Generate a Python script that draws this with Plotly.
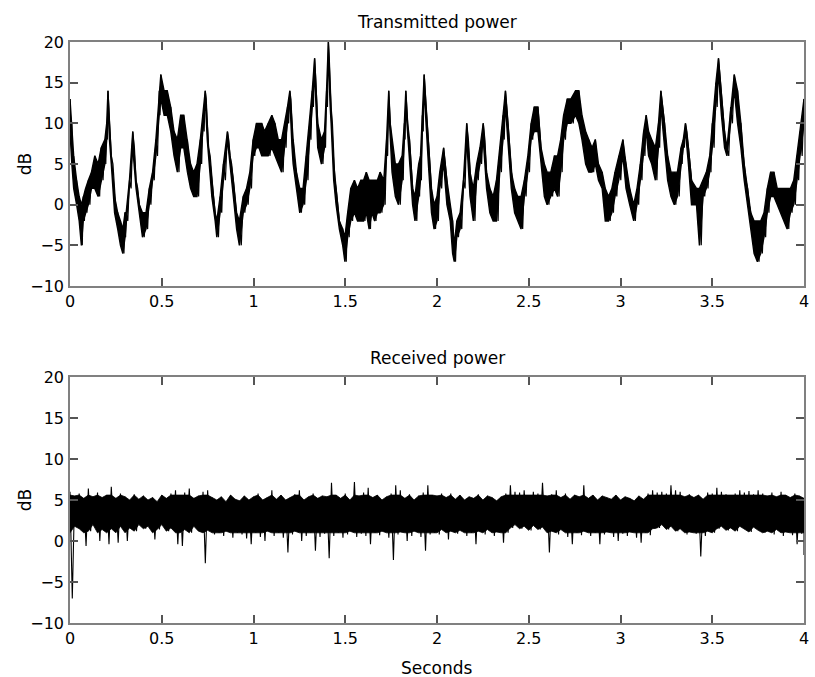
import numpy as np
import plotly.graph_objects as go
from plotly.subplots import make_subplots

# transmitted power, dB: upper / lower edge of the noisy trace
tx_time = [0.000, 0.010, 0.020, 0.036, 0.050, 0.062, 0.072, 0.085, 0.100, 0.117, 0.135, 0.153, 0.170, 0.190,
           0.200, 0.207, 0.215, 0.225, 0.243, 0.260, 0.275, 0.288, 0.300, 0.306, 0.324, 0.342, 0.360, 0.378,
           0.395, 0.414, 0.432, 0.450, 0.468, 0.486, 0.495, 0.513, 0.530, 0.549, 0.567, 0.585, 0.603, 0.620,
           0.640, 0.657, 0.674, 0.692, 0.710, 0.725, 0.737, 0.748, 0.755, 0.773, 0.791, 0.800, 0.818, 0.836,
           0.858, 0.872, 0.890, 0.908, 0.923, 0.944, 0.962, 0.980, 0.998, 1.016, 1.030, 1.045, 1.060, 1.080,
           1.100, 1.117, 1.135, 1.153, 1.170, 1.185, 1.198, 1.210, 1.216, 1.234, 1.252, 1.270, 1.288, 1.306,
           1.320, 1.333, 1.343, 1.350, 1.370, 1.387, 1.398, 1.408, 1.418, 1.423, 1.437, 1.450, 1.468, 1.486,
           1.498, 1.513, 1.530, 1.550, 1.567, 1.585, 1.600, 1.615, 1.630, 1.645, 1.660, 1.675, 1.690, 1.710,
           1.725, 1.737, 1.745, 1.755, 1.773, 1.790, 1.810, 1.822, 1.830, 1.840, 1.850, 1.867, 1.880, 1.900,
           1.910, 1.920, 1.930, 1.940, 1.953, 1.970, 1.984, 2.000, 2.015, 2.036, 2.054, 2.072, 2.085, 2.094,
           2.108, 2.126, 2.144, 2.162, 2.180, 2.198, 2.216, 2.234, 2.252, 2.270, 2.288, 2.306, 2.324, 2.342,
           2.360, 2.373, 2.387, 2.405, 2.423, 2.440, 2.458, 2.476, 2.495, 2.513, 2.530, 2.550, 2.567, 2.585,
           2.600, 2.620, 2.640, 2.657, 2.674, 2.690, 2.710, 2.730, 2.755, 2.773, 2.790, 2.810, 2.827, 2.845,
           2.863, 2.880, 2.900, 2.917, 2.935, 2.953, 2.970, 2.990, 3.013, 3.030, 3.050, 3.072, 3.090, 3.108,
           3.126, 3.140, 3.153, 3.170, 3.190, 3.207, 3.220, 3.240, 3.257, 3.275, 3.293, 3.310, 3.330, 3.342,
           3.354, 3.370, 3.387, 3.414, 3.430, 3.450, 3.468, 3.486, 3.500, 3.520, 3.534, 3.550, 3.567, 3.580,
           3.600, 3.620, 3.638, 3.656, 3.674, 3.693, 3.710, 3.728, 3.746, 3.764, 3.782, 3.800, 3.818, 3.836,
           3.854, 3.872, 3.890, 3.908, 3.926, 3.944, 3.962, 3.980, 4.000]
tx_high = [13, 10, 6, 3, 1, 0, 1, 2, 3, 4, 6, 5, 7, 8,
           10, 14, 10, 6, 1, -1, -2, -3, -1, -1, 3, 9, 3, 0,
           -1, -1, 2, 4, 8, 14, 16, 14, 14, 12, 9, 8, 11, 11,
           8, 5, 4, 5, 8, 11, 14, 10, 7, 3, -1, -2, 1, 5,
           9, 6, 3, -1, -2, 1, 2, 4, 8, 10, 10, 10, 9, 10,
           11, 10, 8, 8, 10, 12, 14, 10, 8, 4, 2, 2, 6, 10,
           14, 18, 13, 10, 8, 9, 14, 20, 14, 12, 5, 2, -2, -3,
           -4, -1, 2, 3, 2, 3, 3, 4, 3, 3, 3, 3, 4, 3,
           8, 14, 10, 8, 5, 5, 6, 10, 14, 10, 8, 2, 1, 5,
           6, 11, 16, 12, 8, 2, 0, 1, 4, 7, 3, 0, -2, -5,
           -2, -1, 3, 10, 4, 2, 5, 7, 10, 4, 2, 1, 3, 7,
           11, 14, 10, 4, 2, 1, 1, 3, 6, 10, 12, 12, 7, 5,
           4, 4, 6, 6, 8, 11, 13, 13, 14, 14, 11, 9, 8, 7,
           8, 5, 4, 2, 1, 2, 4, 6, 8, 5, 2, 0, 2, 5,
           9, 11, 9, 8, 7, 10, 14, 10, 6, 4, 4, 4, 7, 8,
           10, 7, 3, 2, 2, 3, 4, 6, 10, 15, 18, 14, 9, 7,
           12, 16, 14, 10, 5, 2, -1, -2, -2, -2, -1, 2, 4, 4,
           2, 2, 2, 2, 2, 3, 6, 9, 13]
tx_low = [9, 5, 2, 0, -2, -5, -2, -1, 0, 2, 2, 1, 3, 5,
          8, 12, 8, 5, -1, -3, -5, -6, -4, -2, 2, 7, 2, -1,
          -4, -3, 0, 3, 6, 11, 13, 11, 11, 9, 6, 4, 7, 7,
          4, 2, 1, 1, 5, 9, 13, 8, 6, 1, -2, -4, -1, 3,
          8, 5, 1, -3, -5, -1, 0, 2, 6, 7, 7, 6, 6, 6,
          7, 6, 5, 4, 7, 10, 13, 7, 5, 2, -1, 0, 3, 8,
          12, 16, 11, 7, 5, 7, 12, 18, 12, 10, 3, 0, -3, -5,
          -7, -4, -2, -1, -2, -2, -2, -1, -3, -1, -2, -1, -1, 0,
          6, 12, 8, 4, 1, 0, 3, 8, 12, 8, 5, 0, -2, 1,
          3, 9, 14, 10, 5, -1, -3, -2, 2, 5, 0, -2, -6, -7,
          -4, -3, 2, 8, 1, -2, 3, 5, 8, 2, -1, -2, -2, 4,
          8, 12, 7, 2, -1, -2, -3, 1, 4, 8, 9, 9, 5, 1,
          0, 1, 2, 1, 4, 8, 10, 10, 11, 10, 8, 5, 4, 4,
          5, 3, 2, -2, -2, -1, 1, 3, 6, 2, 0, -2, 0, 3,
          6, 9, 6, 5, 3, 7, 12, 7, 3, 1, 0, 1, 5, 7,
          9, 5, 0, 0, -5, 1, 2, 4, 7, 12, 16, 11, 7, 6,
          10, 14, 10, 7, 3, 0, -3, -6, -7, -6, -4, -1, 1, 1,
          0, -1, -2, -3, -1, 0, 3, 6, 10]

# received power, dB, sampled every 0.025 s
rx_time = np.round(np.arange(161) * 0.025, 3)
rx_high = [6.0, 5.5, 5.8, 5.2, 6.4, 5.4, 5.9, 5.3,
           5.6, 6.6, 5.2, 5.8, 5.4, 5.0, 5.7, 5.1,
           5.5, 5.0, 5.3, 4.8, 5.6, 5.2, 5.8, 6.2,
           5.6, 5.9, 6.4, 5.2, 5.5, 6.0, 6.2, 5.3,
           5.0, 5.4, 4.8, 5.6, 5.1, 4.9, 5.5, 5.0,
           5.4, 5.8, 5.0, 5.3, 6.2, 5.1, 5.6, 5.0,
           5.3, 5.7, 6.2, 5.0, 5.4, 5.8, 5.2, 5.5,
           5.4, 7.1, 5.6, 5.2, 5.8, 5.0, 7.2, 5.5,
           5.9, 6.5, 5.3, 5.6, 5.0, 5.4, 5.8, 6.8,
           6.2, 5.2, 5.7, 5.0, 5.5, 5.9, 6.8, 5.6,
           5.5, 5.8, 5.3, 5.8, 5.1, 5.6, 5.0, 5.4,
           5.2, 5.7, 5.0, 5.5, 5.3, 4.9, 5.4, 5.8,
           6.8, 6.0, 5.9, 6.2, 5.6, 6.0, 5.8, 7.1,
           5.5, 5.7, 6.2, 5.3, 5.8, 5.1, 5.6, 5.4,
           6.8, 5.2, 5.6, 5.0, 5.5, 5.3, 5.1, 5.6,
           5.0, 5.4, 5.2, 4.9, 5.5, 5.1, 5.8, 6.2,
           5.9, 6.0, 5.8, 6.8, 6.2, 6.0, 5.4, 5.7,
           5.3, 5.6, 5.1, 5.9, 5.8, 6.5, 6.0, 5.7,
           5.6, 5.8, 6.2, 5.9, 6.1, 5.7, 6.2, 5.8,
           5.5, 5.9, 5.4, 6.0, 5.6, 5.3, 5.8, 5.5,
           5.2]
rx_low = [-7.0, 1.8, 1.5, -0.6, 1.2, 2.0, 0.0, 1.4,
          -0.4, 1.5, -0.2, 1.8, 0.0, 1.6, 1.2, 2.0,
          1.5, 1.8, 0.2, 1.4, 2.0, 1.2, 1.6, -0.4,
          -0.6, 1.4, 1.0, 1.8, 1.2, -2.7, 1.3, 0.8,
          1.0, 0.6, 1.2, 0.4, 1.0, 0.8, 0.3, -0.4,
          1.0, 0.5, 0.0, 1.2, 0.6, 1.0, 0.4, -1.4,
          0.8, 1.2, 0.0, 0.6, 1.0, -1.2, 0.5, 0.9,
          -2.1, 0.6, 1.0, 0.4, 0.8, 1.2, 0.5, 0.9,
          0.6, -0.4, 1.0, 0.7, 1.2, 0.4, -2.3, 0.8,
          1.1, 0.0, 0.6, 1.2, 0.5, -1.2, 0.8, 1.0,
          0.8, 1.4, 0.2, 1.2, 0.9, 1.3, 0.6, 1.0,
          -0.4, 1.2, 0.8, 1.4, 0.6, 1.1, -0.2, 1.0,
          1.6, 2.0, 1.5, 1.8, 1.3, 1.9, 1.4, 1.7,
          -1.4, 1.2, 0.8, 1.4, 0.5, -0.4, 1.0, 0.7,
          1.2, 0.6, 1.0, -0.4, 0.8, 1.1, 0.5, 0.0,
          0.9, 0.6, 1.1, 0.4, -0.2, 1.0, 0.7, 1.5,
          1.6, 2.0, 1.4, 1.8, 1.2, 1.5, 0.8, 1.1,
          0.9, -1.9, 0.6, 1.2, 1.0, 1.5, 1.8, 1.3,
          1.6, 1.2, 1.8, 1.4, 1.1, 1.7, 1.3, 1.0,
          1.2, 0.8, 1.4, 0.6, 1.1, 0.7, -0.4, 0.9,
          -1.7]


def sawtooth(t, hi, lo):
    # alternate between the top and bottom edge so the trace looks like the noisy original
    t = np.asarray(t, dtype=float)
    mid = np.append((t[:-1] + t[1:]) / 2, t[-1])
    x = np.empty(2 * len(t))
    y = np.empty(2 * len(t))
    x[0::2], x[1::2] = t, mid
    y[0::2], y[1::2] = hi, lo
    return x, y


def band(t, hi, lo):
    t = list(t)
    return t + t[::-1], list(hi) + list(lo)[::-1]


fig = make_subplots(rows=2, cols=1, vertical_spacing=0.156)

# top: filled band plus the zigzag edge
bx, by = band(tx_time, tx_high, tx_low)
fig.add_trace(go.Scatter(x=bx, y=by, mode="lines", fill="toself", fillcolor="black",
                         line=dict(color="black", width=1.4), showlegend=False, hoverinfo="skip"),
              row=1, col=1)
x1, y1 = sawtooth(tx_time, tx_high, tx_low)
fig.add_trace(go.Scatter(x=x1, y=y1, mode="lines", line=dict(color="black", width=1.2),
                         showlegend=False, hoverinfo="skip"), row=1, col=1)

# bottom: solid core, spikes drawn by the zigzag only
core_hi = np.clip(rx_high, 1.0, 5.6)
core_lo = np.clip(rx_low, 1.0, 5.6)
bx, by = band(rx_time, core_hi, core_lo)
fig.add_trace(go.Scatter(x=bx, y=by, mode="lines", fill="toself", fillcolor="black",
                         line=dict(color="black", width=0.8), showlegend=False, hoverinfo="skip"),
              row=2, col=1)
x2, y2 = sawtooth(rx_time, rx_high, rx_low)
fig.add_trace(go.Scatter(x=x2, y=y2, mode="lines", line=dict(color="black", width=1.1),
                         showlegend=False, hoverinfo="skip"), row=2, col=1)

font = dict(family="DejaVu Sans", size=16, color="black")
axis = dict(showgrid=False, zeroline=False, showline=True, linecolor="#808080", linewidth=1.5,
            mirror="ticks", ticks="inside", ticklen=8, tickwidth=1.5, tickcolor="#555555",
            tickfont=font)
for r in (1, 2):
    fig.update_xaxes(range=[0, 4], tickvals=[0, 0.5, 1, 1.5, 2, 2.5, 3, 3.5, 4],
                     ticktext=["0", "0.5", "1", "1.5", "2", "2.5", "3", "3.5", "4"],
                     ticklabelstandoff=0, row=r, col=1, **axis)
    fig.update_yaxes(range=[-10, 20], tickvals=[-10, -5, 0, 5, 10, 15, 20],
                     ticktext=["\u221210", "\u22125", "0", "5", "10", "15", "20"],
                     ticklabelstandoff=1, row=r, col=1, **axis)

fig.update_xaxes(domain=[0, 1])
fig.update_layout(yaxis=dict(domain=[0.58, 1]), yaxis2=dict(domain=[0, 0.4234]))

label = dict(family="DejaVu Sans", size=17, color="black")
fig.add_annotation(text="Transmitted power", x=0.5, y=1.0344, xref="paper", yref="paper",
                   showarrow=False, font=label, yanchor="middle")
fig.add_annotation(text="Received power", x=0.5, y=0.456, xref="paper", yref="paper",
                   showarrow=False, font=label, yanchor="middle")
fig.add_annotation(text="Seconds", x=0.5, y=-0.0775, xref="paper", yref="paper",
                   showarrow=False, font=label, yanchor="middle")
for yc in (0.79, 0.2117):
    fig.add_annotation(text="dB", x=-0.0609, y=yc, xref="paper", yref="paper", textangle=-90,
                       showarrow=False, font=label, xanchor="center", yanchor="middle")

fig.update_layout(width=815, height=677, paper_bgcolor="white", plot_bgcolor="white",
                  margin=dict(l=70, r=6, t=42, b=54))
fig.write_html("out.html", config={"displayModeBar": False},
               post_script="document.body.style.margin='0px';")
